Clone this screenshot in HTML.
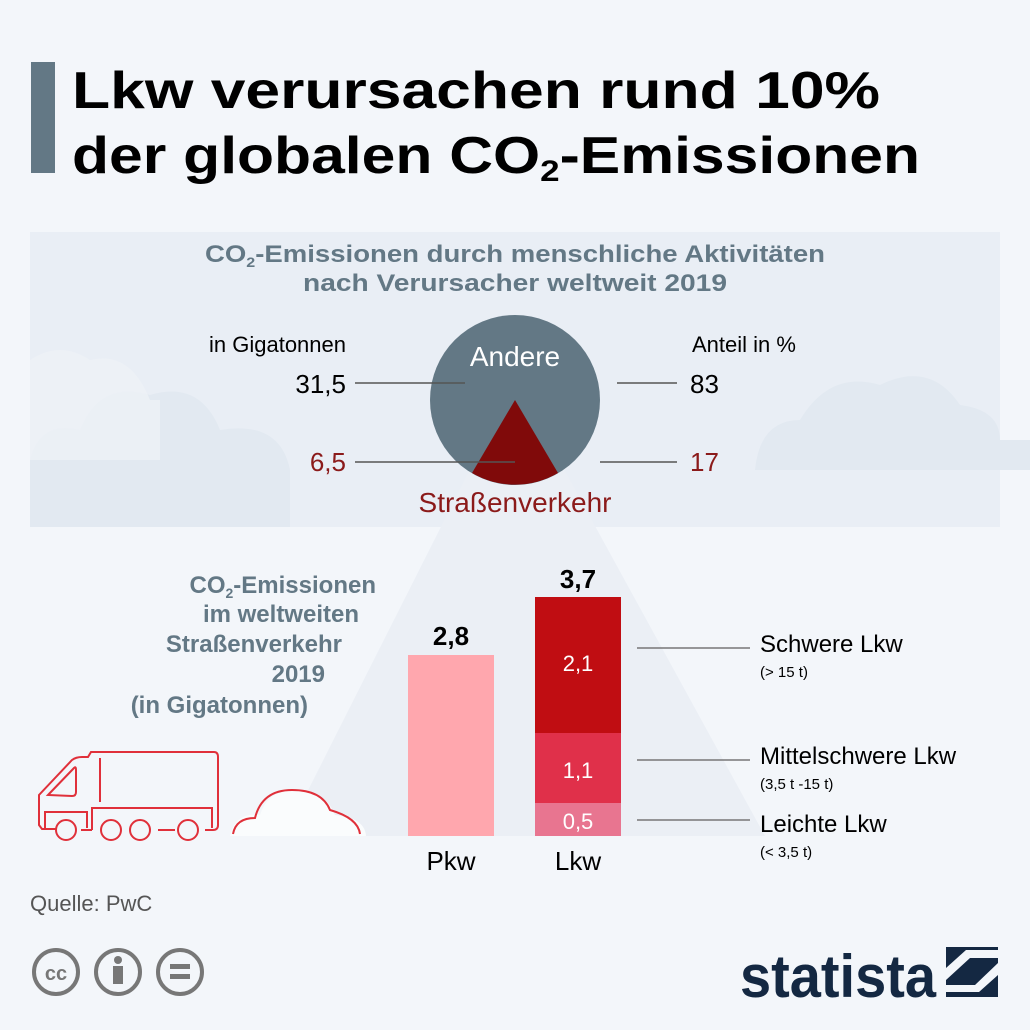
<!DOCTYPE html>
<html><head><meta charset="utf-8"><style>
html,body{margin:0;padding:0;background:#f3f6fa;}
svg{display:block;font-family:"Liberation Sans",sans-serif;}
</style></head><body>
<svg width="1030" height="1030" viewBox="0 0 1030 1030">
<rect width="1030" height="1030" fill="#f3f6fa"/>
<rect x="31" y="62" width="24" height="111" fill="#637885"/>
<text x="72" y="108" font-size="52" font-weight="bold" fill="#000" textLength="808" lengthAdjust="spacingAndGlyphs">Lkw verursachen rund 10%</text>
<text x="72" y="173" font-size="52" font-weight="bold" fill="#000" textLength="848" lengthAdjust="spacingAndGlyphs">der globalen CO<tspan font-size="30" dy="8">2</tspan><tspan dy="-8">-Emissionen</tspan></text>
<!-- panel -->
<rect x="30" y="232" width="970" height="295" fill="#e9eef5"/>
<g fill="#e2e9f1">
<path d="M30 527 L30 460 Q40 420 80 430 Q100 380 150 395 Q200 380 220 430 Q280 420 290 470 L290 527Z"/>
<path d="M755 470 Q760 420 800 420 Q830 370 880 385 Q930 360 960 405 Q1000 410 1000 440 L1030 440 L1030 470Z"/>
</g>
<g fill="#edf1f6" opacity="0.8">
<path d="M30 460 L30 360 Q60 340 90 360 Q130 350 150 400 L160 400 L160 460Z"/>
</g>
<!-- light triangle -->
<path d="M515 380 L285 836 L765 836 Z" fill="#ebeff5"/>
<text x="515" y="262" font-size="24" font-weight="bold" fill="#637885" text-anchor="middle" textLength="620" lengthAdjust="spacingAndGlyphs">CO<tspan font-size="14" dy="5">2</tspan><tspan dy="-5">-Emissionen durch menschliche Aktivitäten</tspan></text>
<text x="515" y="291" font-size="24" font-weight="bold" fill="#637885" text-anchor="middle" textLength="424" lengthAdjust="spacingAndGlyphs">nach Verursacher weltweit 2019</text>
<circle cx="515" cy="400" r="85" fill="#637885"/>
<path d="M515 400 L472 473 A85 85 0 0 0 558 473 Z" fill="#800a0a"/>
<text x="515" y="366" font-size="28" fill="#fff" text-anchor="middle">Andere</text>
<text x="346" y="352" font-size="22" fill="#000" text-anchor="end">in Gigatonnen</text>
<text x="692" y="352" font-size="22" fill="#000">Anteil in %</text>
<text x="346" y="393" font-size="26" fill="#000" text-anchor="end">31,5</text>
<text x="690" y="393" font-size="26" fill="#000">83</text>
<text x="346" y="471" font-size="26" fill="#8b1a1a" text-anchor="end">6,5</text>
<text x="690" y="471" font-size="26" fill="#8b1a1a">17</text>
<g stroke="#555" stroke-width="1.5">
<line x1="355" y1="383" x2="465" y2="383"/>
<line x1="617" y1="383" x2="677" y2="383"/>
<line x1="355" y1="462" x2="515" y2="462"/>
<line x1="600" y1="462" x2="677" y2="462"/>
</g>
<text x="515" y="512" font-size="28" fill="#8b1a1a" text-anchor="middle">Straßenverkehr</text>
<g font-size="24" font-weight="bold" fill="#637885" text-anchor="end">
<text x="376" y="593">CO<tspan font-size="14" dy="5">2</tspan><tspan dy="-5">-Emissionen</tspan></text>
<text x="359" y="622">im weltweiten</text>
<text x="342" y="652">Straßenverkehr</text>
<text x="325" y="682">2019</text>
<text x="308" y="713">(in Gigatonnen)</text>
</g>
<rect x="408" y="655" width="86" height="181" fill="#ffa7ae"/>
<rect x="535" y="597" width="86" height="136" fill="#c00d12"/>
<rect x="535" y="733" width="86" height="70" fill="#e0304a"/>
<rect x="535" y="803" width="86" height="33" fill="#e87590"/>
<text x="451" y="645" font-size="26" font-weight="bold" fill="#000" text-anchor="middle">2,8</text>
<text x="578" y="588" font-size="26" font-weight="bold" fill="#000" text-anchor="middle">3,7</text>
<text x="578" y="671" font-size="22" fill="#fff" text-anchor="middle">2,1</text>
<text x="578" y="778" font-size="22" fill="#fff" text-anchor="middle">1,1</text>
<text x="578" y="829" font-size="22" fill="#fff" text-anchor="middle">0,5</text>
<text x="451" y="870" font-size="26" fill="#000" text-anchor="middle">Pkw</text>
<text x="578" y="870" font-size="26" fill="#000" text-anchor="middle">Lkw</text>
<g stroke="#777" stroke-width="1.5">
<line x1="637" y1="648" x2="750" y2="648"/>
<line x1="637" y1="760" x2="750" y2="760"/>
<line x1="637" y1="820" x2="750" y2="820"/>
</g>
<text x="760" y="652" font-size="24" fill="#000">Schwere Lkw</text>
<text x="760" y="677" font-size="15" fill="#000">(&gt; 15 t)</text>
<text x="760" y="764" font-size="24" fill="#000">Mittelschwere Lkw</text>
<text x="760" y="789" font-size="15" fill="#000">(3,5 t -15 t)</text>
<text x="760" y="832" font-size="24" fill="#000">Leichte Lkw</text>
<text x="760" y="857" font-size="15" fill="#000">(&lt; 3,5 t)</text>
<!-- truck -->
<g fill="none" stroke="#e0303a" stroke-width="2">
<path d="M56 829 L42 829 L39 825 L39 795 L72 760 Q76 757 82 757 L88 757 L91 752 L214 752 Q218 752 218 757 L218 825 Q218 830 213 830 L205 830"/>
<path d="M48 795 L74 768 Q76 766 76 770 L76 792 Q76 796 72 796 Z"/>
<line x1="100" y1="758" x2="100" y2="802"/>
<path d="M45 829 L45 812 L87 812 L87 828"/>
<path d="M92 830 L92 808 L212 808 L212 828"/>
<line x1="81" y1="830" x2="92" y2="830"/><line x1="158" y1="830" x2="175" y2="830"/>
<circle cx="66" cy="830" r="10"/><circle cx="111" cy="830" r="10"/><circle cx="140" cy="830" r="10"/><circle cx="188" cy="830" r="10"/>
</g>
<path d="M230 836 Q235 812 260 815 Q268 790 295 790 Q325 790 335 815 Q365 818 366 836Z" fill="#fafcfd"/>
<path d="M233 834 Q236 818 255 818 Q262 790 292 790 Q322 790 330 810 Q358 818 360 834" fill="none" stroke="#e0303a" stroke-width="2"/>
<text x="30" y="911" font-size="22" fill="#555">Quelle: PwC</text>
<g fill="none" stroke="#777" stroke-width="4">
<circle cx="56" cy="972" r="22"/><circle cx="118" cy="972" r="22"/><circle cx="180" cy="972" r="22"/>
</g>
<text x="56" y="980" font-size="20" font-weight="bold" fill="#777" text-anchor="middle">cc</text>
<circle cx="118" cy="960" r="4" fill="#777"/><rect x="113" y="966" width="10" height="18" fill="#777"/>
<rect x="170" y="964" width="20" height="5" fill="#777"/><rect x="170" y="974" width="20" height="5" fill="#777"/>
<text x="740" y="997" font-size="60" font-weight="bold" fill="#142842" textLength="196" lengthAdjust="spacingAndGlyphs">statista</text>
<rect x="946" y="947" width="52" height="50" fill="#142842"/>
<path d="M946 980 L970 958 L998 958 L998 950 L966 950 L946 968Z M998 963 L975 985 L946 985 L946 992 L979 992 L998 975Z" fill="#f3f6fa"/>
</svg>
</body></html>
